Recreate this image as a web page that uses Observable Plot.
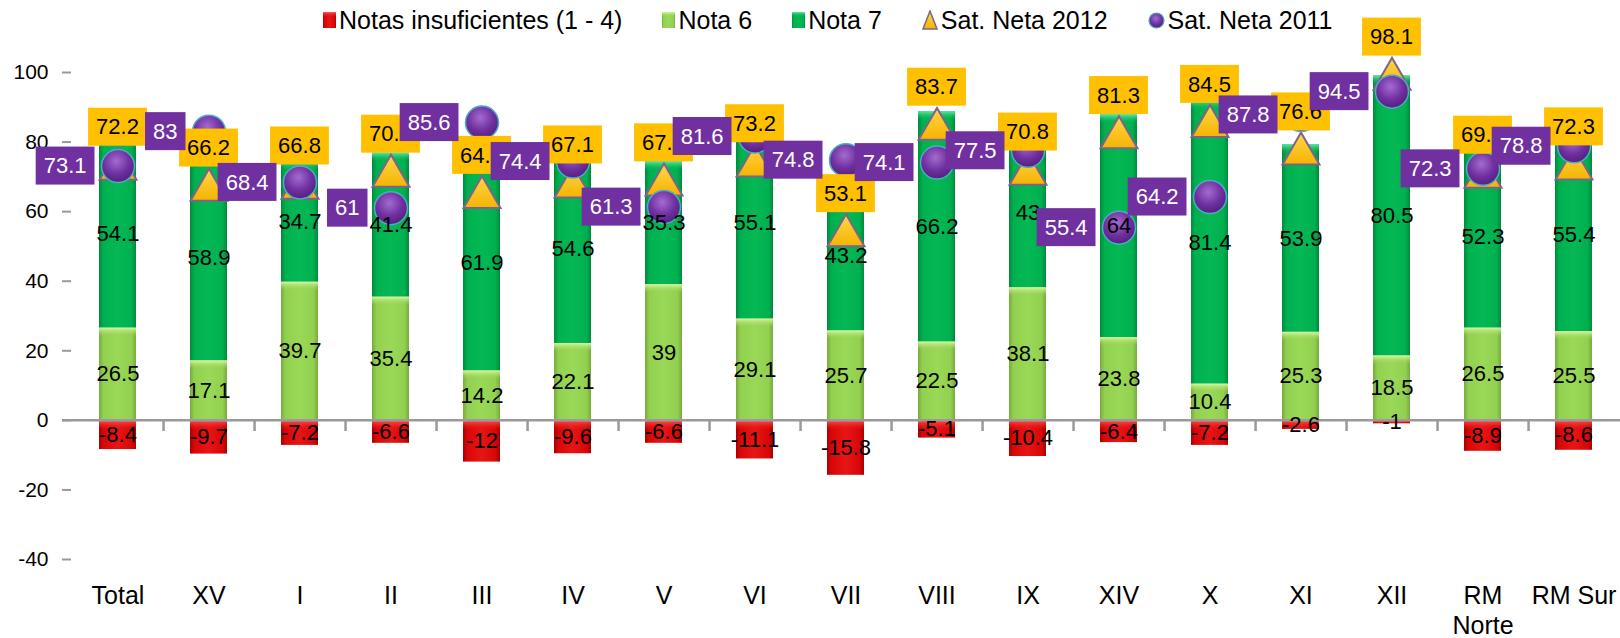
<!DOCTYPE html>
<html><head><meta charset="utf-8">
<script src="https://cdn.jsdelivr.net/npm/d3@7"></script>
<script src="https://cdn.jsdelivr.net/npm/@observablehq/plot@0.6"></script>
<style>
body{margin:0;background:#fff;font-family:"Liberation Sans",Arial,sans-serif;}
#wrap{position:relative;width:1620px;height:638px;overflow:hidden;}
#legend{position:absolute;left:0;top:0;width:1620px;height:40px;font-size:25px;display:flex;align-items:center;padding-left:323px;box-sizing:border-box;gap:40px;color:#000;z-index:0;}
.item{display:flex;align-items:center;white-space:nowrap;}
.item svg{margin-right:3px;display:block;}
#chart{position:absolute;left:0;top:40px;z-index:1;}
</style></head><body>
<div id="wrap"><div id="legend"></div><div id="chart"></div></div>
<script>
const categories = ["Total","XV","I","II","III","IV","V","VI","VII","VIII","IX","XIV","X","XI","XII","RM Norte","RM Sur"];
const insuficientes = [-8.4,-9.7,-7.2,-6.6,-12,-9.6,-6.6,-11.1,-15.8,-5.1,-10.4,-6.4,-7.2,-2.6,-1,-8.9,-8.6];
const nota6 = [26.5,17.1,39.7,35.4,14.2,22.1,39,29.1,25.7,22.5,38.1,23.8,10.4,25.3,18.5,26.5,25.5];
const nota7 = [54.1,58.9,34.7,41.4,61.9,54.6,35.3,55.1,43.2,66.2,43,64,81.4,53.9,80.5,52.3,55.4];
const satNeta2012 = [72.2,66.2,66.8,70.2,64.1,67.1,67.7,73.2,53.1,83.7,70.8,81.3,84.5,76.6,98.1,69.9,72.3];
const satNeta2011 = [73.1,83,68.4,61,85.6,74.4,61.3,81.6,74.8,74.1,77.5,55.4,64.2,87.8,94.5,72.3,78.8];
const yTicks = [-40,-20,0,20,40,60,80,100];
const legendLabels = ["Notas insuficientes (1 - 4)","Nota 6","Nota 7","Sat. Neta 2012","Sat. Neta 2011"];

const rows = categories.map((c,i)=>({cat:c, ins:insuficientes[i], n6:nota6[i], n7:nota7[i], s12:satNeta2012[i], s11:satNeta2011[i]}));

const FONT = "'Liberation Sans', Arial, sans-serif";
const cv = document.createElement("canvas").getContext("2d");
cv.font = `22px ${FONT}`;

function boxLabels(key, bg, color, place){
  return (index, scales, values, dims) => {
    const sx = scales.x, sy = scales.y;
    const bw = typeof sx.bandwidth === "function" ? sx.bandwidth() : (sx.bandwidth || 0);
    const g = d3.create("svg:g");
    for (const r of rows) {
      const px = sx(r.cat) + bw/2, py = sy(r[key]);
      const t = String(r[key]);
      const w = cv.measureText(t).width + 16, h = 38;
      let x0, y0;
      if (place === "above") { x0 = px - w/2; y0 = py - 23 - h; }
      else { x0 = px - 23 - w; y0 = py - h/2; }
      g.append("rect").attr("x",x0).attr("y",y0).attr("width",w).attr("height",h).attr("fill",bg);
      g.append("text").attr("x",x0+w/2).attr("y",y0+h/2).attr("dy","0.35em")
        .attr("text-anchor","middle").attr("font-size",22).attr("font-family",FONT)
        .attr("fill",color).text(t);
    }
    return g.node();
  };
}

const step = (1620-71)/categories.length;

const chart = Plot.plot({
  width:1620, height:598,
  marginLeft:71, marginRight:0, marginTop:32, marginBottom:79,
  x:{domain:categories, paddingInner:0.594, paddingOuter:0.297, axis:null},
  y:{domain:[-40,100], axis:null},
  style:{fontFamily:FONT, background:"transparent", overflow:"visible", color:"#000"},
  marks:[
    Plot.barY(rows,{x:"cat", y1:0, y2:"ins", fill:"url(#gRed)"}),
    Plot.barY(rows,{x:"cat", y1:0, y2:"n6", fill:"url(#gLight)"}),
    Plot.barY(rows,{x:"cat", y1:"n6", y2:d=>d.n6+d.n7, fill:"url(#gDark)"}),
    Plot.barY(rows,{x:"cat", y1:"n6", y2:"n6", insetBottom:-9, fill:"url(#hLight)"}),
    Plot.barY(rows,{x:"cat", y1:d=>d.n6+d.n7, y2:d=>d.n6+d.n7, insetBottom:-9, fill:"url(#hDark)"}),
    Plot.barY(rows,{x:"cat", y1:0, y2:d=>Math.max(d.ins,-2.9), fill:"url(#hRed)"}),
    Plot.ruleY([0],{stroke:"#9a9a9a", strokeWidth:2.5, insetLeft:-9}),
    Plot.ruleX(categories.slice(0,-1),{x:d=>d, y1:0, y2:-3.2, dx:step/2, stroke:"#9a9a9a", strokeWidth:2.5}),
    Plot.axisY({ticks:yTicks, tickSize:9, tickPadding:14, fontSize:21, tickFormat:d=>String(d), stroke:"#9a9a9a", strokeWidth:2, label:null}),
    Plot.axisX({tickSize:0, tickPadding:23, fontSize:25, lineHeight:1.2, label:null, tickFormat:d=>d==="RM Norte"?"RM\nNorte":d}),
    Plot.dot(rows,{x:"cat", y:"s12", symbol:"triangle", r:13.7, fill:"url(#gTri)", stroke:"#7d6488", strokeWidth:2}),
    Plot.dot(rows,{x:"cat", y:"s11", r:16.5, fill:"url(#gCirc)", stroke:"#4BACC6", strokeWidth:1.5}),
    Plot.text(rows,{x:"cat", y:d=>d.ins/2, text:d=>String(d.ins), fontSize:22, fill:"#000"}),
    Plot.text(rows,{x:"cat", y:d=>d.n6/2, text:d=>String(d.n6), fontSize:22, fill:"#000"}),
    Plot.text(rows,{x:"cat", y:d=>d.n6+d.n7/2, text:d=>String(d.n7), fontSize:22, fill:"#000"}),
    boxLabels("s12","#FFC000","#000","above"),
    boxLabels("s11","#7030A0","#fff","left")
  ]
});

const defs = `
<linearGradient id="gRed" x1="0" x2="1" y1="0" y2="0"><stop offset="0" stop-color="#a80000"/><stop offset="0.12" stop-color="#d80808"/><stop offset="0.5" stop-color="#e81515"/><stop offset="0.88" stop-color="#d80808"/><stop offset="1" stop-color="#a80000"/></linearGradient>
<linearGradient id="gLight" x1="0" x2="1" y1="0" y2="0"><stop offset="0" stop-color="#76ab3c"/><stop offset="0.12" stop-color="#92d050"/><stop offset="0.5" stop-color="#9ad858"/><stop offset="0.88" stop-color="#92d050"/><stop offset="1" stop-color="#76ab3c"/></linearGradient>
<linearGradient id="gDark" x1="0" x2="1" y1="0" y2="0"><stop offset="0" stop-color="#008a3c"/><stop offset="0.12" stop-color="#00b050"/><stop offset="0.5" stop-color="#04b854"/><stop offset="0.88" stop-color="#00b050"/><stop offset="1" stop-color="#008a3c"/></linearGradient>
<linearGradient id="hLight" x1="0" x2="0" y1="0" y2="1"><stop offset="0" stop-color="#d6f7a0"/><stop offset="1" stop-color="#92d050" stop-opacity="0"/></linearGradient>
<linearGradient id="hDark" x1="0" x2="0" y1="0" y2="1"><stop offset="0" stop-color="#5fe6a0"/><stop offset="1" stop-color="#00b050" stop-opacity="0"/></linearGradient>
<linearGradient id="hRed" x1="0" x2="0" y1="0" y2="1"><stop offset="0" stop-color="#ff5a5a"/><stop offset="1" stop-color="#e81515" stop-opacity="0"/></linearGradient>
<linearGradient id="gTri" x1="0" x2="0" y1="0" y2="1"><stop offset="0" stop-color="#ffd54a"/><stop offset="1" stop-color="#f5b400"/></linearGradient>
<radialGradient id="gCirc" cx="0.45" cy="0.35" r="0.65"><stop offset="0" stop-color="#a36cd0"/><stop offset="0.6" stop-color="#7030a0"/><stop offset="1" stop-color="#55207e"/></radialGradient>`;
d3.select(chart).insert("defs",":first-child").html(defs);
document.getElementById("chart").appendChild(chart);

// legend
const legendSymbols = [
  `<svg width="13" height="16"><rect x="0" y="0" width="13" height="16" fill="url(#gRed)"/><rect x="0" y="0" width="13" height="5" fill="url(#hRed)"/></svg>`,
  `<svg width="13" height="16"><rect x="0" y="0" width="13" height="16" fill="url(#gLight)"/><rect x="0" y="0" width="13" height="5" fill="url(#hLight)"/></svg>`,
  `<svg width="13" height="16"><rect x="0" y="0" width="13" height="16" fill="url(#gDark)"/><rect x="0" y="0" width="13" height="5" fill="url(#hDark)"/></svg>`,
  `<svg width="16" height="20"><path d="M8 1 L15 19 L1 19 Z" fill="url(#gTri)" stroke="#7d6488" stroke-width="1.5"/></svg>`,
  `<svg width="17" height="17"><circle cx="8.5" cy="8.5" r="7.5" fill="url(#gCirc)" stroke="#4BACC6" stroke-width="1.2"/></svg>`
];
const lg = document.getElementById("legend");
legendLabels.forEach((l,i)=>{
  const it = document.createElement("div");
  it.className = "item";
  it.innerHTML = legendSymbols[i] + `<span>${l}</span>`;
  lg.appendChild(it);
});
</script>
</body></html>
